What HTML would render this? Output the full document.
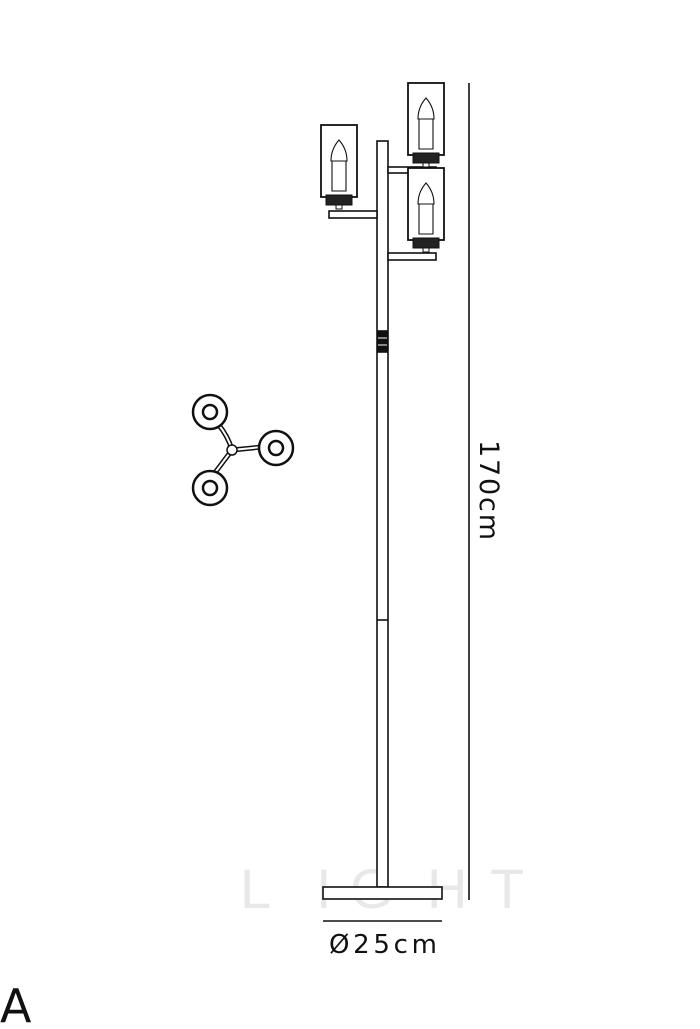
<!DOCTYPE html>
<html><head><style>body{margin:0;background:#fff;width:700px;height:1024px;overflow:hidden}</style></head>
<body>
<svg width="700" height="1024" xmlns="http://www.w3.org/2000/svg">
<g font-family="Liberation Sans, sans-serif" fill="#e8e8e8" font-size="56">
<text x="240" y="908">L</text><text x="316" y="908">I</text><text x="350" y="908">G</text><text x="427" y="908">H</text><text x="490" y="908">T</text>
</g>
<g fill="none" stroke="#111" stroke-width="1.6">
<rect x="377" y="141" width="11" height="746" fill="#fff"/>
<line x1="377" y1="620" x2="388" y2="620"/>
<rect x="378" y="331" width="9" height="21" fill="#111"/>
<line x1="378" y1="338" x2="387" y2="338" stroke="#fff" stroke-width="1"/>
<line x1="378" y1="345" x2="387" y2="345" stroke="#fff" stroke-width="1"/>
<rect x="323" y="887" width="119" height="12" fill="#fff"/>
<line x1="469" y1="83" x2="469" y2="900"/>
<line x1="323" y1="921" x2="442" y2="921"/>
<rect x="329" y="211" width="48" height="7" fill="#fff"/>
<rect x="388" y="167" width="48" height="6" fill="#fff"/>
<rect x="388" y="253" width="48" height="7" fill="#fff"/>
</g>
<defs>
<g id="lamp" fill="none" stroke="#111">
<rect x="0" y="0" width="36" height="72" stroke-width="1.8" fill="#fff"/>
<path d="M10 36 Q10 24 18 15 Q26 24 26 36 Z M11 36 V66 H25 V36" stroke-width="1.1"/>
<rect x="5" y="70" width="26" height="10" fill="#222" stroke-width="1"/>
<rect x="15" y="80" width="6" height="4" fill="#fff" stroke-width="1"/>
</g>
</defs>
<use href="#lamp" x="321" y="125"/>
<use href="#lamp" x="408" y="83"/>
<use href="#lamp" x="408" y="168"/>
<g fill="none" stroke="#111">
<path d="M218 424 Q228 436 232 450 L262 447 M232 450 L214 474" stroke-width="5"/>
<path d="M218 424 Q228 436 232 450 L262 447 M232 450 L214 474" stroke="#fff" stroke-width="2"/>
<circle cx="232" cy="450" r="5" fill="#fff" stroke-width="1.5"/>
<circle cx="210" cy="412" r="17" fill="#fff" stroke-width="2.5"/><circle cx="210" cy="412" r="7" stroke-width="2.5"/>
<circle cx="276" cy="448" r="17" fill="#fff" stroke-width="2.5"/><circle cx="276" cy="448" r="7" stroke-width="2.5"/>
<circle cx="210" cy="488" r="17" fill="#fff" stroke-width="2.5"/><circle cx="210" cy="488" r="7" stroke-width="2.5"/>
</g>
<g font-family="DejaVu Sans, sans-serif" fill="#111">
<text x="329" y="953" font-size="26" textLength="108">Ø25cm</text>
<text transform="translate(480,440) rotate(90)" font-size="27" textLength="100">170cm</text>
<text x="0" y="1022" font-size="46">A</text>
</g>
</svg>
</body></html>
